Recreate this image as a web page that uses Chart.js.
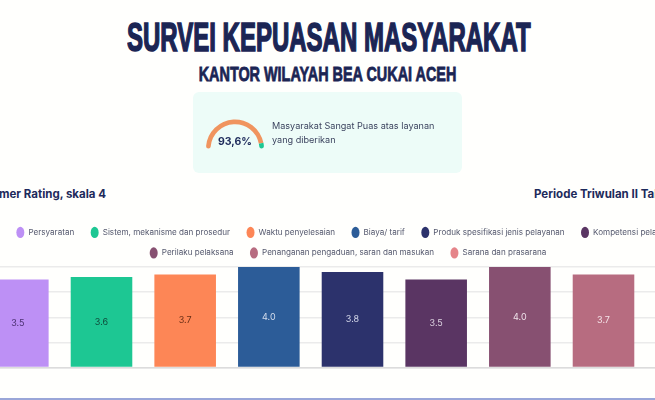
<!DOCTYPE html>
<html>
<head>
<meta charset="utf-8">
<script src="https://cdn.jsdelivr.net/npm/chart.js@4/dist/chart.umd.min.js"></script>
<style>
    html, body { margin: 0; padding: 0; background: #fffffd; }
    body { width: 655px; height: 400px; overflow: hidden; position: relative; font-family: Inter, sans-serif; color: #1d2a5b; }
    .title { position: absolute; left: 0; width: 655px; text-align: center; font-family: "Liberation Sans", sans-serif; font-weight: 700; color: #1b2554; white-space: nowrap; }
    #mainTitle { left: -4px; top: 13px; font-size: 40px; line-height: 48px; -webkit-text-stroke: 1.6px #1b2554; transform: scaleX(0.6); }
    #subTitle { top: 61px; font-size: 20px; line-height: 26px; -webkit-text-stroke: 0.8px #1b2554; transform: scaleX(0.72); }
    #card { position: absolute; left: 193px; top: 92px; width: 269px; height: 81px; background: #edfcf8; border-radius: 6px; }
    #gaugeWrap { position: absolute; left: 206px; top: 119px; width: 58px; height: 30px; }
    #gaugeValue { position: absolute; left: 205px; top: 134px; width: 60px; text-align: center; font-size: 10.5px; line-height: 16px; font-weight: 700; color: #1d2a5b; }
    #cardText { position: absolute; left: 272px; top: 118.5px; width: 175px; font-size: 9.1px; line-height: 14.4px; color: #3d4560; }
    .heading { position: absolute; top: 187px; font-size: 11.5px; line-height: 14px; font-weight: 700; color: #1d2a5b; white-space: nowrap; }
    #ratingHeading { right: 549px; }
    #periodHeading { left: 534px; }
    #chartWrap { position: absolute; left: -29px; top: 215.5px; width: 758px; height: 159.5px; }
    #bottomLine { position: absolute; left: 0; top: 398px; width: 655px; height: 2px; background: #9aa6d8; }
</style>
</head>
<body>
<div class="title" id="mainTitle">SURVEI KEPUASAN MASYARAKAT</div>
<div class="title" id="subTitle">KANTOR WILAYAH BEA CUKAI ACEH</div>
<div id="card"></div>
<div id="gaugeWrap"><canvas id="gaugeChart"></canvas></div>
<div id="gaugeValue">93,6%</div>
<div id="cardText">Masyarakat Sangat Puas atas layanan<br>yang diberikan</div>
<div class="heading" id="ratingHeading">Customer Rating, skala 4</div>
<div class="heading" id="periodHeading">Periode Triwulan II Tahun</div>
<div id="chartWrap"><canvas id="ratingChart"></canvas></div>
<div id="bottomLine"></div>

<script>
const categories = ["Persyaratan", "Sistem, mekanisme dan prosedur", "Waktu penyelesaian", "Biaya/ tarif", "Produk spesifikasi jenis pelayanan", "Kompetensi pelayanan", "Perilaku pelaksana", "Penanganan pengaduan, saran dan masukan", "Sarana dan prasarana"];
// last bar sits past the right edge of the photo, its value is a guess
const ratings = [3.5, 3.6, 3.7, 4.0, 3.8, 3.5, 4.0, 3.7, 3.7];
const barColors = ["#bd90f5", "#1dc793", "#fd8656", "#2c5c98", "#2c326c", "#5a3563", "#875071", "#b76c80", "#e58489"];
const labelColors = ["#4a2f70", "#0f4a3a", "#6a2f16", "#d5deee", "#d5d8ea", "#dcd2e0", "#efe2ea", "#f5e3e8", "#5a2a2e"];
const gaugeValues = [93.6, 6.4];
const gaugeColors = ["#f0945f", "#1dc793"];

// value labels in the middle of each bar
const barLabels = {
    id: "barLabels",
    afterDatasetsDraw(chart) {
        const ctx = chart.ctx;
        ctx.save();
        ctx.font = "9px Inter";
        ctx.textAlign = "center";
        ctx.textBaseline = "middle";
        chart.getDatasetMeta(0).data.forEach((bar, i) => {
            ctx.fillStyle = labelColors[i];
            ctx.fillText(ratings[i].toFixed(1), bar.x, (bar.y + bar.base) / 2);
        });
        ctx.restore();
    }
};

new Chart(document.getElementById("ratingChart"), {
    type: "bar",
    data: {
        labels: categories,
        datasets: [{ data: ratings, backgroundColor: barColors, categoryPercentage: 0.736, barPercentage: 1 }]
    },
    plugins: [barLabels],
    options: {
        responsive: true,
        maintainAspectRatio: false,
        animation: false,
        plugins: {
            tooltip: { enabled: false },
            legend: {
                position: "top",
                labels: {
                    usePointStyle: true,
                    pointStyle: "circle",
                    pointStyleWidth: 8,
                    boxHeight: 8,
                    padding: 12.4,
                    color: "#55596e",
                    font: { family: "Inter", size: 8.1 },
                    // en space keeps the items apart without stretching the row height
                    generateLabels: () => categories.map((name, i) => ({
                        text: name + "\u2002",
                        fillStyle: barColors[i],
                        strokeStyle: barColors[i],
                        lineWidth: 0,
                        pointStyle: "circle",
                        fontColor: "#55596e",
                        index: i
                    }))
                }
            }
        },
        scales: {
            x: {
                grid: { display: false },
                border: { color: "#dcdcdc", width: 1.5 },
                ticks: { display: false }
            },
            y: {
                min: 0,
                max: 4,
                ticks: { stepSize: 1, display: false },
                grid: { color: "#ebebeb", lineWidth: 1.5 },
                border: { display: false },
                afterFit: (scale) => { scale.width = 5; }
            }
        }
    }
});

new Chart(document.getElementById("gaugeChart"), {
    type: "doughnut",
    data: {
        datasets: [{
            data: gaugeValues,
            backgroundColor: gaugeColors,
            borderWidth: 0,
            borderRadius: [
                { outerStart: 2.3, innerStart: 2.3, outerEnd: 0, innerEnd: 0 },
                { outerStart: 0, innerStart: 0, outerEnd: 2.3, innerEnd: 2.3 }
            ]
        }]
    },
    options: {
        responsive: true,
        maintainAspectRatio: false,
        animation: false,
        rotation: -90,
        circumference: 180,
        cutout: "84%",
        plugins: { legend: { display: false }, tooltip: { enabled: false } }
    }
});
</script>
</body>
</html>
